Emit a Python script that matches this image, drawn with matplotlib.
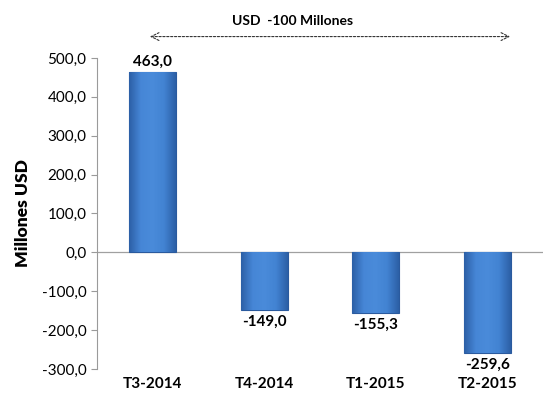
import matplotlib.pyplot as plt
import numpy as np
from matplotlib.colors import LinearSegmentedColormap

categories = ["T3-2014", "T4-2014", "T1-2015", "T2-2015"]
values = [463.0, -149.0, -155.3, -259.6]
yticks = [-300, -200, -100, 0, 100, 200, 300, 400, 500]
note = "USD  -100 Millones"

plt.rcParams['font.family'] = ['Lato', 'DejaVu Sans']

fig = plt.figure(figsize=(5.43, 3.97), dpi=100)
ax = fig.add_axes([0.1786, 0.0705, 0.8214, 0.7835])

x = np.arange(len(categories))
width = 0.42
bars = ax.bar(x, values, width=width, color="#3a78c8", edgecolor="#2a5a9e",
              linewidth=0.8, zorder=2)

# horizontal shading so the bars look bevelled
cmap = LinearSegmentedColormap.from_list(
    "bev", ["#2c5fa6", "#4686d6", "#4a8bda", "#4283d2", "#2c5fa6"])
grad = np.linspace(0, 1, 200).reshape(1, -1)
for b in bars:
    x0, y0 = b.get_x(), b.get_y()
    w, h = b.get_width(), b.get_height()
    im = ax.imshow(grad, cmap=cmap, aspect='auto', zorder=2.5,
                   extent=[x0, x0 + w, y0, y0 + h], origin='lower')
    im.set_clip_path(b)

ax.set_xlim(-0.5, len(categories) - 0.5)
ax.set_ylim(-300, 500)
ax.set_yticks(yticks)
ax.set_yticklabels([f"{v:.1f}".replace(".", ",") for v in yticks], fontsize=11)
ax.set_xticks(x)
ax.set_xticklabels(categories, fontsize=11, fontweight='bold')
ax.tick_params(axis='x', length=0, pad=6)
ax.tick_params(axis='y', length=4, color="#9a9a9a", direction='out')

for s in ["top", "right", "bottom"]:
    ax.spines[s].set_visible(False)
ax.spines["left"].set_color("#9a9a9a")
ax.axhline(0, color="#a0a0a0", linewidth=0.9, zorder=1)

ax.set_ylabel("Millones USD", fontsize=12.5, fontweight='heavy', labelpad=8)

for xi, v in zip(x, values):
    txt = f"{v:.1f}".replace(".", ",")
    if v >= 0:
        ax.text(xi, v + 8, txt, ha='center', va='bottom', fontsize=11,
                fontweight='bold')
    else:
        ax.text(xi, v - 12, txt, ha='center', va='top', fontsize=11,
                fontweight='bold')

ax.annotate("", xy=(3.23, 555), xytext=(-0.05, 555), xycoords='data',
            arrowprops=dict(arrowstyle='<->', linestyle=(0, (2, 1.5)),
                            color="#333333", lw=0.8, mutation_scale=14),
            annotation_clip=False)
ax.text(1.25, 595, note, ha='center', va='center', fontsize=10,
        fontweight='bold')

fig.savefig("out.png", dpi=100)
